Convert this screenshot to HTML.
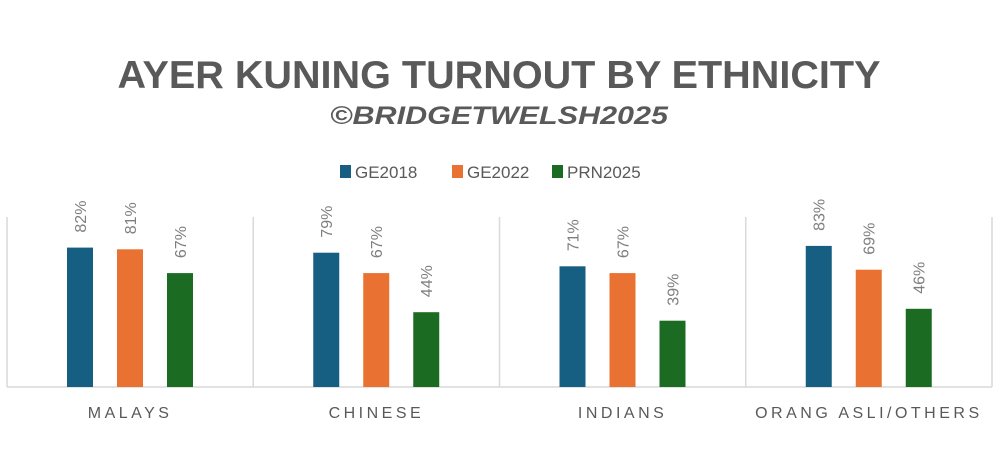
<!DOCTYPE html>
<html><head><meta charset="utf-8"><style>
html,body{margin:0;padding:0;background:#fff;}
svg{display:block;font-family:"Liberation Sans",sans-serif;}
</style></head><body>
<svg id="chart" width="1000" height="464" viewBox="0 0 1000 464">
<text x="499" y="88" text-anchor="middle" font-size="39" font-weight="bold" fill="#595959" textLength="763" lengthAdjust="spacingAndGlyphs">AYER KUNING TURNOUT BY ETHNICITY</text>
<text x="499" y="124" text-anchor="middle" font-size="25" font-weight="bold" font-style="italic" fill="#595959" textLength="338" lengthAdjust="spacingAndGlyphs">©BRIDGETWELSH2025</text>
<g id="legend"></g>
<g id="grid"></g>
<g id="bars"></g>
<g id="labels"></g>
<g id="cats"></g>
</svg>
<script>
const categories = ["MALAYS", "CHINESE", "INDIANS", "ORANG ASLI/OTHERS"];
const seriesNames = ["GE2018", "GE2022", "PRN2025"];
const ge2018 = [82, 79, 71, 83];
const ge2022 = [81, 67, 67, 69];
const prn2025 = [67, 44, 39, 46];
const seriesValues = [ge2018, ge2022, prn2025];
const colors = ["#175f82", "#e97132", "#1b6b23"];

const NS = "http://www.w3.org/2000/svg";
const plotLeft = 7, plotRight = 992, plotTop = 217, plotBottom = 387;
const catW = (plotRight - plotLeft) / categories.length;
const yMax = 100;
function yScale(v){ return plotBottom - v / yMax * (plotBottom - plotTop); }
function catX(i){ return plotLeft + i * catW; }
function barX(i, s){ return catX(i) + 60 + s * 50; }
const barW = 26;
function mk(tag, attrs, parent){ const e = document.createElementNS(NS, tag); for (const k in attrs) e.setAttribute(k, attrs[k]); parent.appendChild(e); return e; }

const grid = document.getElementById("grid");
for (let i = 0; i <= categories.length; i++) {
  const l = mk("line", {x1: catX(i), x2: catX(i), y1: plotTop, y2: plotBottom, stroke: "#d9d9d9", "stroke-width": 1.5}, grid);
  
  
}
const ax = mk("line", {x1: plotLeft, x2: plotRight, y1: plotBottom, y2: plotBottom, stroke: "#d9d9d9", "stroke-width": 1.5}, grid);



const bars = document.getElementById("bars"), labels = document.getElementById("labels"), cats = document.getElementById("cats");
categories.forEach((c, i) => {
  seriesValues.forEach((vals, s) => {
    const v = vals[i];
    const r = mk("rect", {x: barX(i, s), y: yScale(v), width: barW, height: plotBottom - yScale(v), fill: colors[s]}, bars);
    
    
    const tx = barX(i, s) + barW / 2 + 6, ty = yScale(v) - 15;
    const t = mk("text", {x: tx, y: ty, "font-size": 16, fill: "#7f7f7f", transform: "rotate(-90 " + tx + " " + ty + ")"}, labels);
    t.textContent = v + "%";
    
    
  });
  const ct = mk("text", {x: catX(i) + catW / 2, y: 418, "text-anchor": "middle", "font-size": 16, fill: "#595959", "letter-spacing": 3.5}, cats);
  ct.textContent = c;
  
  
});

const legend = document.getElementById("legend");
const lx = [340, 452, 552];
seriesNames.forEach((n, s) => {
  const g = mk("g", {}, legend);
  
  
  mk("rect", {x: lx[s], y: 165, width: 11, height: 13, fill: colors[s]}, g);
  const t = mk("text", {x: lx[s] + 15, y: 178, "font-size": 17, fill: "#595959"}, g);
  t.textContent = n;
});
</script>
</body></html>
